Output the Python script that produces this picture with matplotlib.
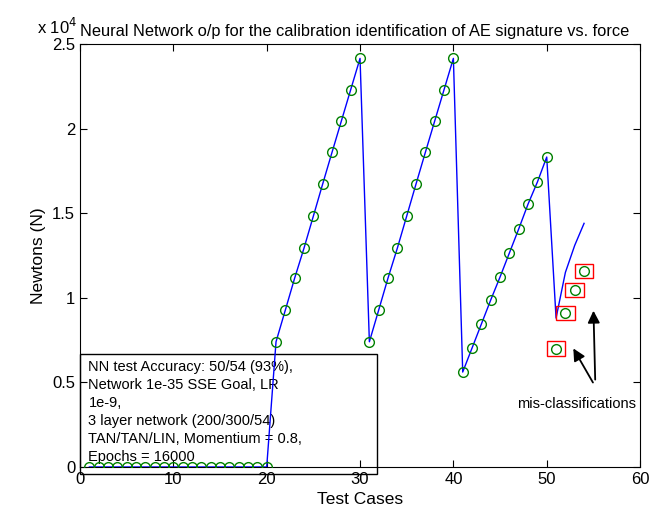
import matplotlib as mpl
mpl.use('Agg')
import matplotlib.pyplot as plt
from matplotlib.patches import Rectangle
import numpy as np

plt.rcParams.update({'font.family': ['Liberation Sans', 'DejaVu Sans'], 'font.size': 12})

# network output (N) for test cases 1..54
cases = np.arange(1, 55)
ramp_a = [7400, 9280, 11170, 12940, 14830, 16730, 18600, 20450, 22300, 24150]
ramp_c = [5610, 7030, 8450, 9870, 11230, 12650, 14070, 15540, 16840, 18320]
nn_out = [0] * 20 + ramp_a + ramp_a + ramp_c + [8800, 11500, 13100, 14400]

# mis-classified cases (circles inside red boxes)
miss_x = [51, 52, 53, 54]
miss_y = [7000, 9120, 10440, 11600]

yticks = [0, 5000, 10000, 15000, 20000, 25000]
ytick_labels = ['0', '0.5', '1', '1.5', '2', '2.5']
xticks = [0, 10, 20, 30, 40, 50, 60]

info = ("NN test Accuracy: 50/54 (93%),\nNetwork 1e-35 SSE Goal, LR\n1e-9,\n"
        "3 layer network (200/300/54)\nTAN/TAN/LIN, Momentium = 0.8,\nEpochs = 16000")

fig = plt.figure(figsize=(6.52, 5.22), dpi=100)
ax = fig.add_axes([0.1227, 0.1054, 0.859, 0.8103])

# text box sitting on the lower-left corner
ax.add_patch(Rectangle((0, -400), 31.8, 7080, facecolor='white', edgecolor='black',
                       lw=1, zorder=1, clip_on=False))
ax.text(0.9, 6350, info, fontsize=10.5, va='top', ha='left', multialignment='left',
        linespacing=1.38, zorder=2)

ax.plot(cases, nn_out, color='blue', lw=1, zorder=3)
ax.plot(cases[:50], nn_out[:50], 'o', mfc='none', mec='green', ms=7, mew=1, zorder=4)
ax.plot(miss_x, miss_y, 'o', mfc='none', mec='green', ms=7, mew=1, zorder=4)
for mx, my in zip(miss_x, miss_y):
    ax.add_patch(Rectangle((mx - 1.0, my - 420), 2.0, 840, fill=False,
                           edgecolor='red', lw=1, zorder=4))

ax.annotate('', xy=(52.7, 7150), xytext=(55.1, 4850),
            arrowprops=dict(arrowstyle='-|>', color='black', lw=1.3, mutation_scale=18))
ax.annotate('', xy=(55.0, 9400), xytext=(55.2, 5000),
            arrowprops=dict(arrowstyle='-|>', color='black', lw=1.3, mutation_scale=18))
ax.text(53.2, 3700, 'mis-classifications', fontsize=10.5, ha='center', va='center')

ax.set_xlim(0, 60)
ax.set_ylim(0, 25000)
ax.set_xticks(xticks)
ax.set_yticks(yticks)
ax.set_yticklabels(ytick_labels)
ax.tick_params(direction='in', top=True, right=True, length=5, labelsize=12)
ax.set_xlabel('Test Cases', fontsize=12.5)
ax.set_ylabel('Newtons (N)', fontsize=12.5)
ax.set_title('Neural Network o/p for the calibration identification of AE signature vs. force',
             fontsize=11.8, x=0.49)
fig.text(0.056, 0.934, r'x 10$^4$', fontsize=12)

plt.savefig('out.png', dpi=100)
